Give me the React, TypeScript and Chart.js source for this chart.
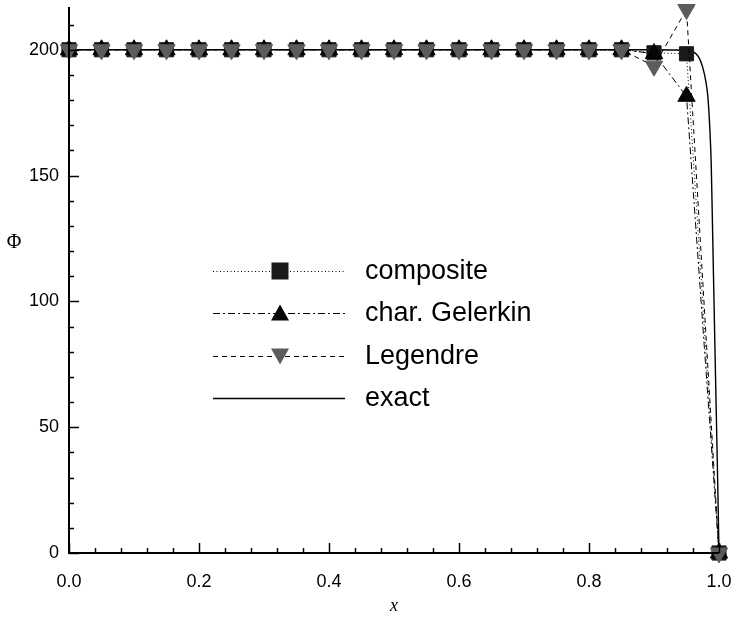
import React, { useEffect, useRef } from 'react';
import { Chart, registerables } from 'chart.js';

Chart.register(...registerables);

// ---- data ----
const xNodes = [0, 0.05, 0.1, 0.15, 0.2, 0.25, 0.3, 0.35, 0.4, 0.45, 0.5, 0.55, 0.6, 0.65, 0.7, 0.75, 0.8, 0.85, 0.9, 0.95, 1.0];
const compositeY = [200, 200, 200, 200, 200, 200, 200, 200, 200, 200, 200, 200, 200, 200, 200, 200, 200, 200, 198.8, 198.4, 0];
const charGalerkinY = [200, 200, 200, 200, 200, 200, 200, 200, 200, 200, 200, 200, 200, 200, 200, 200, 200, 200, 198.5, 181.5, 0];
const legendreY = [200, 200, 200, 200, 200, 200, 200, 200, 200, 200, 200, 200, 200, 200, 200, 200, 200, 200, 193.5, 216, 0];
const exactX = [0, 0.9, 0.95, 0.96, 0.965, 0.97, 0.975, 0.98, 0.983, 0.986, 0.988, 0.99, 0.992, 0.995, 0.998, 1.0];
const exactY = [200, 200, 199.8, 199.2, 198.3, 196.5, 193, 187, 181, 168, 155, 130, 104, 66, 28, 0];

const seriesLabels = ['composite', 'char. Gelerkin', 'Legendre', 'exact'];
const xTickValues = [0, 0.2, 0.4, 0.6, 0.8, 1.0];
const yTickValues = [0, 50, 100, 150, 200];
const xLabel = 'x';
const yLabel = 'Φ';

const X_MIN = 0, X_MAX = 1, Y_MIN = 0, Y_MAX = 217;
const X_MINOR = 0.04, Y_MINOR = 10;

const toPts = (xs: number[], ys: number[]) => xs.map((x, i) => ({ x, y: ys[i] }));

type Style = { color: string; dash: number[]; marker: string | false; rot: number; fill: string; width: number; order: number };
const styles: Style[] = [
  { color: '#000', dash: [1, 2.5], marker: 'rect', rot: 0, fill: '#1a1a1a', width: 1, order: 3 },
  { color: '#000', dash: [7, 3, 2, 3], marker: 'triangle', rot: 0, fill: '#050505', width: 1, order: 2 },
  { color: '#000', dash: [5, 4], marker: 'triangle', rot: 180, fill: '#5c5c5c', width: 1, order: 1 },
  { color: '#000', dash: [], marker: false, rot: 0, fill: '#000', width: 1.4, order: 4 },
];

const decorPlugin = {
  id: 'decor',
  afterDraw(chart: any) {
    const { ctx, chartArea: a, scales } = chart;
    const xs = scales.x, ys = scales.y;
    ctx.save();
    ctx.strokeStyle = '#000';
    ctx.setLineDash([]);
    // axis lines
    ctx.lineWidth = 2;
    ctx.beginPath();
    ctx.moveTo(a.left, a.top);
    ctx.lineTo(a.left, a.bottom);
    ctx.lineTo(a.right, a.bottom);
    ctx.stroke();
    // ticks
    ctx.lineWidth = 1.5;
    const nx = Math.round((X_MAX - X_MIN) / X_MINOR);
    for (let i = 0; i <= nx; i++) {
      const v = X_MIN + i * X_MINOR;
      const px = Math.round(xs.getPixelForValue(v)) + 0.5;
      const len = i % 5 === 0 ? 10 : 5;
      ctx.beginPath();
      ctx.moveTo(px, a.bottom);
      ctx.lineTo(px, a.bottom - len);
      ctx.stroke();
    }
    const ny = Math.floor((Y_MAX - Y_MIN) / Y_MINOR);
    for (let i = 0; i <= ny; i++) {
      const v = Y_MIN + i * Y_MINOR;
      const py = Math.round(ys.getPixelForValue(v)) + 0.5;
      const len = i % 5 === 0 ? 10 : 5;
      ctx.beginPath();
      ctx.moveTo(a.left, py);
      ctx.lineTo(a.left + len, py);
      ctx.stroke();
    }
    // axis titles
    ctx.fillStyle = '#000';
    ctx.textAlign = 'center';
    ctx.textBaseline = 'middle';
    ctx.font = 'italic 18px "Liberation Serif", "DejaVu Serif", serif';
    ctx.fillText(xLabel, (a.left + a.right) / 2, 606);
    ctx.font = '20px "Liberation Serif", "DejaVu Serif", serif';
    ctx.fillText(yLabel, 14, 243);

    // legend
    const lx0 = 213, lx1 = 345, mx = 280, tx = 365, ty0 = 271, dy = 42.3;
    ctx.font = '27px "Liberation Sans", Arial, sans-serif';
    ctx.textAlign = 'left';
    seriesLabels.forEach((lab, i) => {
      const st = styles[i];
      const y = Math.round(ty0 + i * dy);
      ctx.strokeStyle = st.color;
      ctx.lineWidth = st.width;
      ctx.setLineDash(st.dash);
      ctx.beginPath();
      ctx.moveTo(lx0, y + 0.5);
      ctx.lineTo(lx1, y + 0.5);
      ctx.stroke();
      ctx.setLineDash([]);
      if (st.marker === 'rect') {
        ctx.fillStyle = st.fill;
        ctx.fillRect(mx - 8.5, y - 8.5, 17, 17);
      } else if (st.marker === 'triangle') {
        ctx.fillStyle = st.fill;
        const h = 15, w = 18;
        ctx.beginPath();
        if (st.rot === 0) {
          ctx.moveTo(mx, y - h / 2 - 1);
          ctx.lineTo(mx + w / 2, y + h / 2);
          ctx.lineTo(mx - w / 2, y + h / 2);
        } else {
          ctx.moveTo(mx, y + h / 2 + 1);
          ctx.lineTo(mx + w / 2, y - h / 2);
          ctx.lineTo(mx - w / 2, y - h / 2);
        }
        ctx.closePath();
        ctx.fill();
      }
      ctx.fillStyle = '#000';
      ctx.fillText(lab, tx, y + 1);
    });
    ctx.restore();
  },
};

export default function App() {
  const ref = useRef<HTMLCanvasElement | null>(null);
  useEffect(() => {
    if (!ref.current) return;
    const series = [compositeY, charGalerkinY, legendreY];
    const datasets: any[] = series.map((ys, i) => ({
      label: seriesLabels[i],
      data: toPts(xNodes, ys),
      borderColor: styles[i].color,
      borderWidth: styles[i].width,
      borderDash: styles[i].dash,
      pointStyle: styles[i].marker,
      pointRotation: styles[i].rot,
      pointRadius: 10,
      pointBackgroundColor: styles[i].fill,
      pointBorderColor: styles[i].fill,
      pointBorderWidth: 1,
      tension: 0,
      fill: false,
      clip: false,
      order: styles[i].order,
    }));
    datasets.push({
      label: seriesLabels[3],
      data: toPts(exactX, exactY),
      borderColor: '#000',
      borderWidth: styles[3].width,
      pointRadius: 0,
      cubicInterpolationMode: 'monotone',
      fill: false,
      clip: false,
      order: styles[3].order,
    });
    const chart = new Chart(ref.current, {
      type: 'line',
      data: { datasets },
      options: {
        animation: false,
        responsive: true,
        maintainAspectRatio: false,
        layout: { autoPadding: false, padding: { top: 7, right: 17, left: 0, bottom: 0 } },
        plugins: { legend: { display: false }, tooltip: { enabled: false } },
        scales: {
          x: {
            type: 'linear',
            min: X_MIN,
            max: X_MAX,
            grid: { display: false, drawTicks: false },
            border: { display: false },
            afterBuildTicks: (s: any) => { s.ticks = xTickValues.map((v) => ({ value: v })); },
            afterFit: (s: any) => {
              s.height = 66;
              s.paddingLeft = 0; s.paddingRight = 0; s.paddingTop = 0; s.paddingBottom = 0;
            },
            ticks: {
              padding: 18,
              color: '#000',
              maxRotation: 0,
              autoSkip: false,
              font: { family: '"Liberation Sans", Arial, sans-serif', size: 18 },
              callback: (v: any) => Number(v).toFixed(1),
            },
          },
          y: {
            type: 'linear',
            min: Y_MIN,
            max: Y_MAX,
            grid: { display: false, drawTicks: false },
            border: { display: false },
            afterBuildTicks: (s: any) => { s.ticks = yTickValues.map((v) => ({ value: v })); },
            afterFit: (s: any) => {
              s.width = 69;
              s.paddingLeft = 0; s.paddingRight = 0; s.paddingTop = 0; s.paddingBottom = 0;
            },
            ticks: {
              padding: 10,
              color: '#000',
              autoSkip: false,
              font: { family: '"Liberation Sans", Arial, sans-serif', size: 18 },
              callback: (v: any) => String(v),
            },
          },
        },
      },
      plugins: [decorPlugin],
    });
    return () => chart.destroy();
  }, []);
  return (
    <div style={{ position: 'fixed', left: 0, top: 0, width: 736, height: 619, background: '#fff' }}>
      <canvas ref={ref} />
    </div>
  );
}
